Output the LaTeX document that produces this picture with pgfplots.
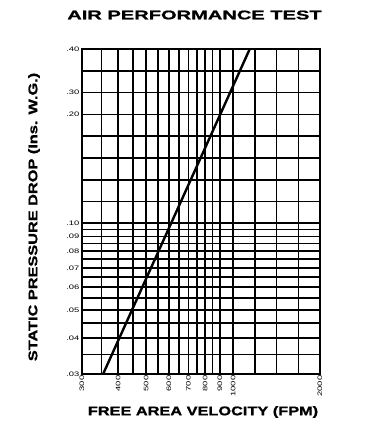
\documentclass[border=0pt]{standalone}
\usepackage{pgfplots}
\pgfplotsset{compat=1.18}
\usepackage{fontspec}
\setmainfont{Liberation Sans}
\newfontfamily\titlefont[FakeStretch=1.6,FakeBold=1.2]{Liberation Sans}
\newfontfamily\labfont[FakeStretch=1.3,FakeBold=1.2]{Liberation Sans}
\newfontfamily\tickfont[FakeStretch=1.45]{Liberation Sans}
\begin{document}
\begin{tikzpicture}[x=1bp,y=1bp]
\path[use as bounding box] (-82,-62) rectangle (288,374);
\begin{axis}[
  at={(0,0)}, anchor=south west,
  scale only axis, width=238bp, height=324.7bp,
  xmode=log, ymode=log,
  xmin=300, xmax=2000, ymin=0.03, ymax=0.4,
  xtick={300,350,400,450,500,550,600,650,700,750,800,850,900,1000,1189,1414,1682,2000},
  xticklabels={300,{},400,{},500,{},600,{},700,{},800,{},900,1000,{},{},{},2000},
  ytick={0.03,0.035,0.04,0.045,0.05,0.055,0.06,0.065,0.07,0.075,0.08,0.085,0.09,0.095,0.1,0.119,0.141,0.168,0.2,0.238,0.283,0.336,0.4},
  yticklabels={.03,{},.04,{},.05,{},.06,{},.07,{},.08,{},.09,{},.10,{},{},{},{},.20,.30,{},.40},
  grid=major,
  major grid style={black, line width=1.5bp},
  axis line style={black, line width=1.6bp},
  major tick length=0pt,
  tick label style={font=\tickfont\fontsize{6.5}{7}\selectfont, black},
  xticklabel style={rotate=90, anchor=east, inner sep=1.5bp},
  yticklabel style={anchor=east, inner sep=2.5bp},
  clip=true,
]
\addplot[black, line width=2.4bp] coordinates {(355,0.03) (1141,0.4)};
\end{axis}
\node[font=\titlefont\bfseries\fontsize{12.6}{14}\selectfont] at (112.5,359) {AIR PERFORMANCE TEST};
\node[rotate=90, font=\labfont\bfseries\fontsize{12.6}{14}\selectfont] at (-48,157) {STATIC PRESSURE DROP (Ins. W.G.)};
\node[font=\labfont\bfseries\fontsize{12.6}{14}\selectfont] at (121,-38) {FREE AREA VELOCITY (FPM)};
\end{tikzpicture}
\end{document}
